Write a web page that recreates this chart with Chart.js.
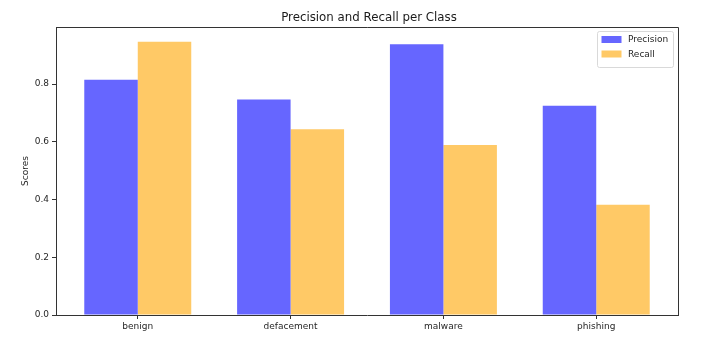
<!DOCTYPE html>
<html>
<head>
<meta charset="utf-8">
<title>Precision and Recall per Class</title>
<script src="https://cdn.jsdelivr.net/npm/chart.js@4.4.1/dist/chart.umd.min.js"></script>
<style>
  html, body { margin: 0; padding: 0; background: #ffffff; }
  #wrap { width: 723px; height: 338px; position: relative; }
</style>
</head>
<body>
<div id="wrap"><canvas id="chart" width="723" height="338"></canvas></div>
<script>
// Per-class scores
const categories = ['benign', 'defacement', 'malware', 'phishing'];
const precision = [0.815, 0.746, 0.938, 0.725];
const recall = [0.946, 0.643, 0.589, 0.382];
const yTicks = [0.0, 0.2, 0.4, 0.6, 0.8];

const FONT = "'DejaVu Sans', 'Liberation Sans', sans-serif";
const AXIS_COLOR = '#333333';
const TEXT_COLOR = '#262626';

// Axes frame, title and in-plot legend
const framePlugin = {
  id: 'frame',
  afterDraw(chart) {
    const { ctx, chartArea: a } = chart;
    ctx.save();
    ctx.strokeStyle = AXIS_COLOR;
    ctx.lineWidth = 1;
    ctx.beginPath();
    ctx.moveTo(a.left, a.top + 0.5);
    ctx.lineTo(a.right + 0.5, a.top + 0.5);
    ctx.lineTo(a.right + 0.5, a.bottom);
    ctx.stroke();

    // title centred over the axes
    ctx.fillStyle = '#1a1a1a';
    ctx.font = '11.8px ' + FONT;
    ctx.textAlign = 'center';
    ctx.textBaseline = 'middle';
    ctx.fillText('Precision and Recall per Class', (a.left + a.right) / 2 + 2, 17.5);

    // legend box, upper right
    const sets = chart.data.datasets;
    const boxW = 76, rowH = 14.5;
    const boxH = 8 + rowH * sets.length - 1;
    const bx = a.right - 4.5 - boxW, by = a.top + 4.5;
    ctx.fillStyle = 'rgba(255,255,255,0.8)';
    ctx.strokeStyle = '#d9d9d9';
    ctx.lineWidth = 1;
    ctx.beginPath();
    ctx.roundRect(bx, by, boxW, boxH, 2);
    ctx.fill();
    ctx.stroke();
    ctx.font = '9px ' + FONT;
    ctx.textAlign = 'left';
    sets.forEach((ds, i) => {
      const cy = by + 8 + i * rowH;
      ctx.fillStyle = ds.backgroundColor;
      ctx.fillRect(bx + 4, cy - 3.5, 20, 7);
      ctx.fillStyle = TEXT_COLOR;
      ctx.fillText(ds.label, bx + 30.5, cy + 0.5);
    });
    ctx.restore();
  }
};

new Chart(document.getElementById('chart'), {
  type: 'bar',
  data: {
    datasets: [
      {
        label: 'Precision',
        data: categories.map((c, i) => ({ x: i, y: precision[i] })),
        backgroundColor: '#6666ff',
        borderWidth: 0
      },
      {
        label: 'Recall',
        data: categories.map((c, i) => ({ x: i, y: recall[i] })),
        backgroundColor: '#ffc966',
        borderWidth: 0
      }
    ]
  },
  options: {
    responsive: false,
    animation: false,
    devicePixelRatio: 1,
    categoryPercentage: 0.7,
    barPercentage: 1.0,
    layout: { padding: { top: 27, right: 45, left: 0, bottom: 0 } },
    plugins: {
      legend: { display: false },
      title: { display: false },
      tooltip: { enabled: false }
    },
    scales: {
      x: {
        type: 'linear',
        min: -0.535,
        max: 3.535,
        offset: false,
        afterBuildTicks(axis) { axis.ticks = categories.map((c, i) => ({ value: i })); },
        afterFit(axis) { axis.height = 23; },
        grid: { offset: false, drawOnChartArea: false, drawTicks: true, tickLength: 4, color: AXIS_COLOR },
        border: { display: true, color: AXIS_COLOR, width: 1 },
        ticks: {
          autoSkip: false,
          maxRotation: 0,
          padding: 2,
          color: TEXT_COLOR,
          font: { family: FONT, size: 9 },
          callback: (v) => categories[v]
        }
      },
      y: {
        min: 0,
        max: 0.9975,
        afterBuildTicks(axis) { axis.ticks = yTicks.map(v => ({ value: v })); },
        afterFit(axis) { axis.width = 56; },
        grid: { drawOnChartArea: false, drawTicks: true, tickLength: 4, color: AXIS_COLOR },
        border: { display: true, color: AXIS_COLOR, width: 1 },
        title: {
          display: true,
          text: 'Scores',
          color: TEXT_COLOR,
          font: { family: FONT, size: 9 },
          padding: { top: 20, bottom: 0 }
        },
        ticks: {
          padding: 3,
          color: TEXT_COLOR,
          font: { family: FONT, size: 9 },
          callback: (v) => Number(v).toFixed(1)
        }
      }
    }
  },
  plugins: [framePlugin]
});
</script>
</body>
</html>
